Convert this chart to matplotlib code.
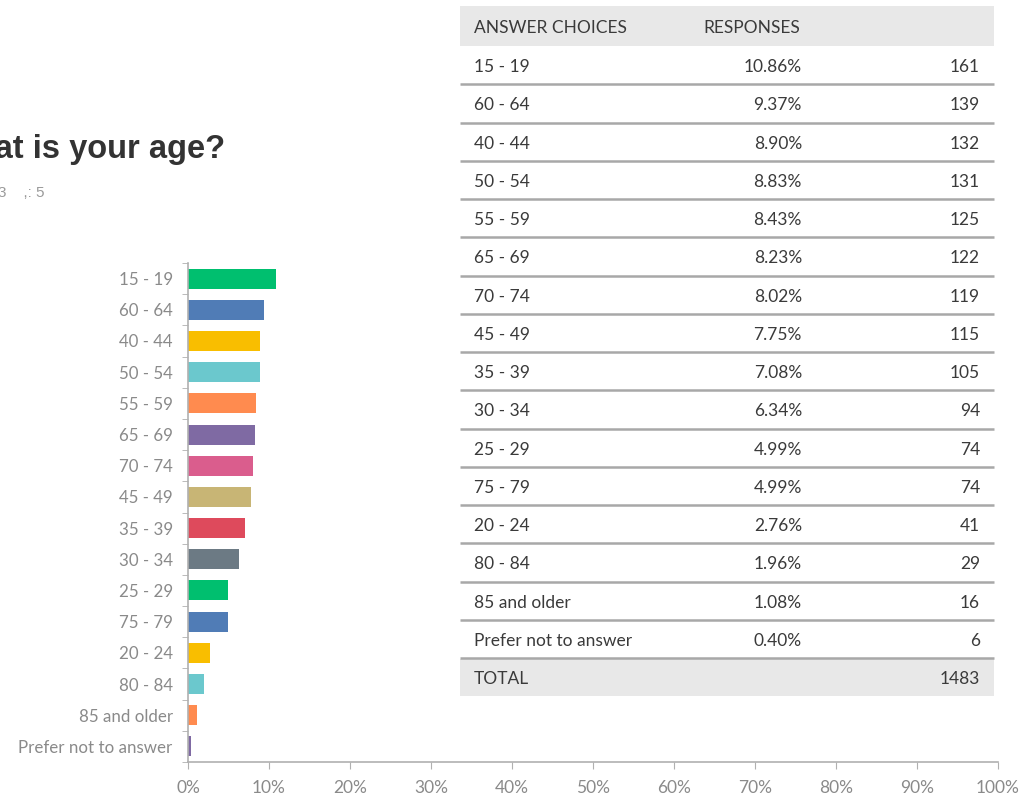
import matplotlib
matplotlib.use("Agg")
import matplotlib.pyplot as plt
from matplotlib.ticker import FixedLocator, PercentFormatter

# Survey results: "What is your age?"
categories = ["15 - 19", "60 - 64", "40 - 44", "50 - 54", "55 - 59", "65 - 69",
              "70 - 74", "45 - 49", "35 - 39", "30 - 34", "25 - 29", "75 - 79",
              "20 - 24", "80 - 84", "85 and older", "Prefer not to answer"]
percents = [10.86, 9.37, 8.90, 8.83, 8.43, 8.23, 8.02, 7.75, 7.08, 6.34,
            4.99, 4.99, 2.76, 1.96, 1.08, 0.40]
counts = [161, 139, 132, 131, 125, 122, 119, 115, 105, 94, 74, 74, 41, 29, 16, 6]
total = 1483
xticks = [0, 10, 20, 30, 40, 50, 60, 70, 80, 90, 100]

palette = ["#00BF6F", "#507CB6", "#F9BE00", "#6BC8CD", "#FF8B4F", "#7F6AA3",
           "#DA5D8D", "#C8B575", "#DE4A5C", "#6C7A84"]
colors = [palette[i % len(palette)] for i in range(len(categories))]

W, H = 1026, 800
fig = plt.figure(figsize=(W / 100, H / 100), dpi=100)
fig.patch.set_facecolor("white")

label_font = "Lato"
grey = "#8a8a8a"

# ---- bar chart ----
ax = fig.add_axes([188 / W, 38 / H, (998 - 188) / W, (762 - 263) / H])
ypos = list(range(len(categories)))
ax.barh(ypos, percents, height=0.64, color=colors, zorder=2)
ax.set_xlim(0, 100)
ax.set_ylim(len(categories) - 0.5, -0.5)
ax.set_yticks(ypos)
ax.set_yticklabels(categories, fontsize=12.2, color=grey, family=label_font)
ax.yaxis.set_minor_locator(FixedLocator([i - 0.5 for i in range(len(categories) + 1)]))
ax.tick_params(axis="y", which="major", length=0, pad=11)
ax.tick_params(axis="y", which="minor", length=4, color="#b0b0b0", direction="out")
ax.set_xticks(xticks)
ax.xaxis.set_major_formatter(PercentFormatter(decimals=0))
ax.tick_params(axis="x", length=5, color="#b0b0b0", pad=8, labelsize=12.5,
               labelcolor=grey)
for lab in ax.get_xticklabels():
    lab.set_family(label_font)
for s in ["top", "right"]:
    ax.spines[s].set_visible(False)
for s in ["left", "bottom"]:
    ax.spines[s].set_color("#b0b0b0")
    ax.spines[s].set_linewidth(1.2)
ax.set_facecolor("none")

# ---- title (runs off the left edge) ----
fig.text(225 / W, 1 - 158 / H, "What is your age?", ha="right", va="baseline",
         fontsize=23.5, fontweight="bold", color="#333333", family="Liberation Sans")
fig.text(-2 / W, 1 - 197 / H, "3    ,: 5", ha="left", va="baseline",
         fontsize=11, color="#9a9a9a", family="Liberation Sans")

# ---- results table ----
tab = fig.add_axes([0, 0, 1, 1], zorder=5)
tab.set_xlim(0, W)
tab.set_ylim(H, 0)
tab.axis("off")

x0, x1 = 460, 994
head_top, head_bot = 6, 46
row_h = (658 - 46) / len(categories)
txt = "#3a3a3a"
fs = 12.5

tab.add_patch(plt.Rectangle((x0, head_top), x1 - x0, head_bot - head_top,
                            color="#e8e8e8", lw=0))
tab.text(474, (head_top + head_bot) / 2 + 2, "ANSWER CHOICES", ha="left", va="center",
         fontsize=fs, color=txt, family=label_font)
tab.text(703, (head_top + head_bot) / 2 + 2, "RESPONSES", ha="left", va="center",
         fontsize=fs, color=txt, family=label_font)

for i, (cat, pct, cnt) in enumerate(zip(categories, percents, counts)):
    top = head_bot + i * row_h
    yc = top + row_h / 2 + 2
    tab.text(474, yc, cat, ha="left", va="center", fontsize=fs, color=txt,
             family=label_font)
    tab.text(802, yc, f"{pct:.2f}%", ha="right", va="center", fontsize=fs,
             color=txt, family=label_font)
    tab.text(980, yc, f"{cnt}", ha="right", va="center", fontsize=fs,
             color=txt, family=label_font)
    tab.plot([x0, x1], [top + row_h, top + row_h], color="#a8a8a8", lw=1.8,
             solid_capstyle="butt")

tot_top = head_bot + len(categories) * row_h
tab.add_patch(plt.Rectangle((x0, tot_top + 1), x1 - x0, 37, color="#e8e8e8", lw=0,
                            zorder=0))
tab.text(474, tot_top + 21, "TOTAL", ha="left", va="center", fontsize=fs,
         color=txt, family=label_font)
tab.text(980, tot_top + 21, f"{total}", ha="right", va="center", fontsize=fs,
         color=txt, family=label_font)

fig.savefig("out.png", dpi=100, facecolor="white")
